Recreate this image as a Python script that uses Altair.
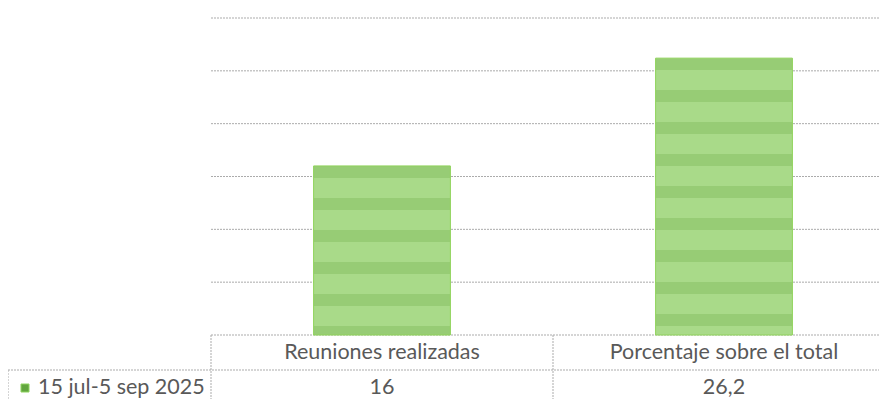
import altair as alt
import pandas as pd

# ---- data ----
categories = ["Reuniones realizadas", "Porcentaje sobre el total"]
values = [16, 26.2]
value_labels = ["16", "26,2"]
series_name = "15 jul-5 sep 2025"
grid_values = [0, 5, 10, 15, 20, 25, 30]

# ---- layout / style ----
PLOT_W, PLOT_H = 668, 317
Y_MAX = 30
X_RANGE = 684
FONT = "Lato"
FS = 21.5
TXT = "#595959"
GRID = "#ababab"
LIGHT = "#a9da89"
DARK = "#97cc75"
EDGE = "#8fd35a"

df = pd.DataFrame({"cat": categories, "value": values, "label": value_labels})
grid_df = pd.DataFrame({"g": grid_values})

xscale = alt.Scale(domain=categories, range=[0, X_RANGE], paddingInner=0.6, paddingOuter=0.3)
yscale = alt.Scale(domain=[0, Y_MAX])


def stripe_gradient(v, period=32.0, dark=12.0):
    h = v / Y_MAX * PLOT_H
    stops = []
    k = 0.0
    while k < h:
        a = k / h
        b = min((k + dark) / h, 1.0)
        c = min((k + period) / h, 1.0)
        stops += [
            alt.GradientStop(offset=a, color=DARK),
            alt.GradientStop(offset=b, color=DARK),
            alt.GradientStop(offset=b, color=LIGHT),
            alt.GradientStop(offset=c, color=LIGHT),
        ]
        k += period
    return alt.Gradient(gradient="linear", stops=stops, x1=0, x2=0, y1=0, y2=1)


grid = alt.Chart(grid_df).mark_rule(color=GRID, strokeWidth=1, strokeDash=[2, 1]).encode(
    y=alt.Y("g:Q", scale=yscale, axis=None),
    x=alt.value(0),
    x2=alt.value(X_RANGE),
)

bar_layers = []
for c, v in zip(categories, values):
    bar_layers.append(
        alt.Chart(df)
        .transform_filter(alt.datum.cat == c)
        .mark_bar(fill=stripe_gradient(v), stroke=EDGE, strokeWidth=1)
        .encode(
            x=alt.X("cat:N", scale=xscale, axis=None, sort=categories),
            y=alt.Y("value:Q", scale=yscale, axis=None),
        )
    )

# table header (category names) and values
header = alt.Chart(df).mark_text(font=FONT, fontSize=FS, color=TXT, baseline="middle").encode(
    x=alt.X("cat:N", scale=xscale, axis=None, sort=categories),
    y=alt.value(335),
    text="cat:N",
)
vals = alt.Chart(df).mark_text(font=FONT, fontSize=FS, color=TXT, baseline="middle").encode(
    x=alt.X("cat:N", scale=xscale, axis=None, sort=categories),
    y=alt.value(370),
    text="label:N",
)

series_df = pd.DataFrame({"s": [series_name]})
legend_key = alt.Chart(series_df).mark_rect(color="#62a63f", stroke="#8fd45f").encode(
    x=alt.value(-190), x2=alt.value(-182), y=alt.value(366), y2=alt.value(374)
)
legend_txt = alt.Chart(series_df).mark_text(
    font=FONT, fontSize=FS, color=TXT, align="left", baseline="middle"
).encode(x=alt.value(-173), y=alt.value(370), text="s:N")

line_style = dict(color=GRID, strokeWidth=1, strokeDash=[2, 1])
h_row = alt.Chart(series_df).mark_rule(**line_style).encode(
    x=alt.value(-203), x2=alt.value(X_RANGE), y=alt.value(352)
)
v0 = alt.Chart(series_df).mark_rule(**line_style).encode(
    x=alt.value(0), y=alt.value(317), y2=alt.value(400)
)
v1 = alt.Chart(series_df).mark_rule(**line_style).encode(
    x=alt.value(X_RANGE / 2), y=alt.value(317), y2=alt.value(400)
)
vleft = alt.Chart(series_df).mark_rule(**line_style).encode(
    x=alt.value(-203), y=alt.value(352), y2=alt.value(400)
)

chart = (
    alt.layer(grid, *bar_layers, header, vals, legend_key, legend_txt, h_row, v0, v1, vleft)
    .properties(
        width=PLOT_W,
        height=PLOT_H,
        autosize=alt.AutoSizeParams(type="none"),
        padding={"left": 203, "top": 10, "right": 0, "bottom": 64},
    )
    .configure_view(stroke=None)
)

chart.save("out.html", embed_options={"renderer": "svg", "actions": False})
